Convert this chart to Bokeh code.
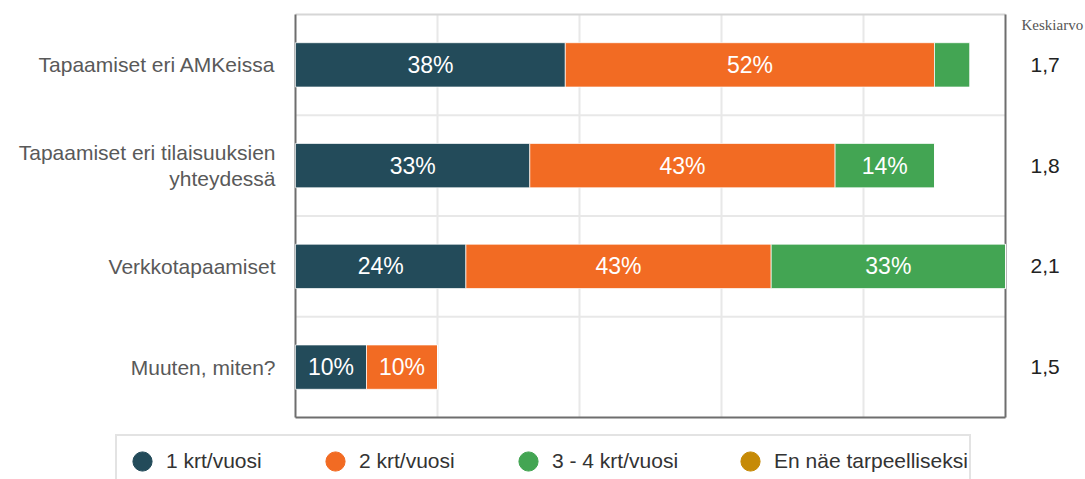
from bokeh.plotting import figure
from bokeh.models import ColumnDataSource, Legend, LegendItem, Range1d
from bokeh.embed import file_html
from bokeh.resources import INLINE
from bokeh.core.properties import value

# ---- data ----
categories = ["Tapaamiset eri AMKeissa",
              "Tapaamiset eri tilaisuuksien\nyhteydessä",
              "Verkkotapaamiset",
              "Muuten, miten?"]
series = ["1 krt/vuosi", "2 krt/vuosi", "3 - 4 krt/vuosi", "En näe tarpeelliseksi"]
once_a_year = [38, 33, 24, 10]
twice_a_year = [52, 43, 43, 10]
three_four_a_year = [5, 14, 33, 0]
not_needed = [0, 0, 0, 0]
averages = ["1,7", "1,8", "2,1", "1,5"]
average_header = "Keskiarvo"
colors = ["#234b5a", "#f26b23", "#43a553", "#c68a06"]
x_grid = [20, 40, 60, 80]
x_max = 100

n = len(categories)
ypos = [n - 0.5 - i for i in range(n)]
y_bounds = list(range(1, n))
keys = ["s0", "s1", "s2", "s3"]
values_by_series = [once_a_year, twice_a_year, three_four_a_year, not_needed]

FONT = "Liberation Sans"
W, H = 1085, 479
PX_X = 7.1        # pixels per percent
PX_Y = 100.75     # pixels per category row
LEFT, TOP = 295, 14

p = figure(width=W, height=H, output_backend="svg", toolbar_location=None,
           x_range=Range1d(-LEFT / PX_X, (W - LEFT) / PX_X),
           y_range=Range1d(n - (H - TOP) / PX_Y, n + TOP / PX_Y),
           min_border=0)
p.title.visible = False
p.axis.visible = False
p.grid.visible = False
p.outline_line_color = None
p.background_fill_color = "white"
p.border_fill_color = "white"

# grid lines
p.segment(x0=x_grid, x1=x_grid, y0=[0] * len(x_grid), y1=[n] * len(x_grid),
          line_color="#e8e8e8", line_width=2)
p.segment(x0=[0] * len(y_bounds), x1=[x_max] * len(y_bounds), y0=y_bounds,
          y1=y_bounds, line_color="#e8e8e8", line_width=2)

# plot-area border
p.segment(x0=[0], x1=[x_max], y0=[n], y1=[n], line_color="#d6d6d6", line_width=2)
p.segment(x0=[0, 0, x_max], x1=[x_max, 0, x_max], y0=[0, 0, 0], y1=[0, n, n],
          line_color="#6e6e6e", line_width=2)

# stacked bars
src = ColumnDataSource(dict(y=ypos, s0=once_a_year, s1=twice_a_year,
                            s2=three_four_a_year, s3=not_needed))
p.hbar_stack(keys, y="y", height=0.44, color=colors, line_color="white",
             line_width=1, line_alpha=0.7, source=src)

# labels on bars
lx, ly, lt = [], [], []
for i in range(n):
    cum = 0
    for vals in values_by_series:
        v = vals[i]
        if v >= 8:
            lx.append(cum + v / 2)
            ly.append(ypos[i])
            lt.append(f"{v}%")
        cum += v
p.text(x="x", y="y", text="t", source=ColumnDataSource(dict(x=lx, y=ly, t=lt)),
       text_color="white", text_font=value(FONT), text_font_size="23px",
       text_align="center", text_baseline="middle")

# category labels
p.text(x=[-20 / PX_X] * n, y=ypos, text=categories, text_color="#595959",
       text_font=value(FONT), text_font_size="21px", text_align="right",
       text_baseline="middle", text_line_height=1.15)

# averages column
p.text(x=[x_max + 25 / PX_X] * n, y=ypos, text=averages, text_color="#222222",
       text_font=value(FONT), text_font_size="21px", text_align="left",
       text_baseline="middle")
p.text(x=[x_max + 16 / PX_X], y=[n - 10.5 / PX_Y], text=[average_header],
       text_color="#555555", text_font=value("Liberation Serif"),
       text_font_size="15px", text_align="left", text_baseline="middle")

# legend with circle markers (legend-only renderers, nothing plotted)
nan = float("nan")
legend_renderers = [p.scatter(x=[nan], y=[nan], marker="circle", size=19, color=c)
                    for c in colors]
legend = Legend(items=[LegendItem(label=s, renderers=[r])
                       for s, r in zip(series, legend_renderers)],
                orientation="horizontal", location=(115, -9),
                padding=1, spacing=48, label_width=97, glyph_width=48,
                glyph_height=48, label_height=20, label_standoff=-4,
                label_text_font=FONT, label_text_font_size="21px",
                label_text_color="#333333", border_line_color="#c8c8c8",
                border_line_width=2, background_fill_color="white",
                background_fill_alpha=1, margin=0)
p.add_layout(legend)

open("out.html", "w").write(file_html(p, INLINE))
